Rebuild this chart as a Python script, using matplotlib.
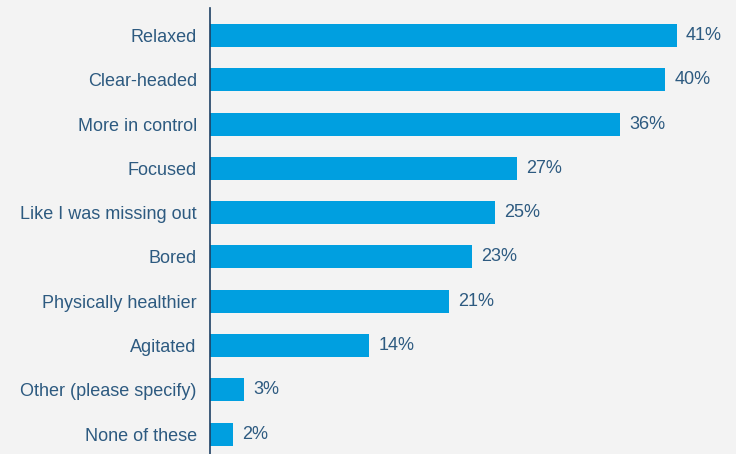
import matplotlib
matplotlib.use("Agg")
import matplotlib.pyplot as plt

categories = ["Relaxed", "Clear-headed", "More in control", "Focused",
              "Like I was missing out", "Bored", "Physically healthier",
              "Agitated", "Other (please specify)", "None of these"]
values = [41, 40, 36, 27, 25, 23, 21, 14, 3, 2]

bg = "#f3f3f3"
bar_color = "#009fe0"
text_color = "#2d5a80"

plt.rcParams["font.family"] = ["Liberation Sans", "DejaVu Sans"]

fig = plt.figure(figsize=(7.36, 4.54), dpi=100, facecolor=bg)
ax = fig.add_axes([210 / 736, 0, 526 / 736, 446 / 454], facecolor=bg)

pos = list(range(len(categories)))
ax.barh(pos, values, height=0.52, color=bar_color)
for y, v in zip(pos, values):
    ax.text(v + 0.8, y, f"{v}%", va="center", ha="left",
            fontsize=13, color=text_color)

ax.set_xlim(0, 46.2)
ax.set_ylim(9.45, -0.62)
ax.set_yticks(pos)
ax.set_yticklabels(categories, fontsize=13, color=text_color)
ax.tick_params(axis="y", length=0, pad=9.5)
ax.set_xticks([])
for side in ["top", "right", "bottom"]:
    ax.spines[side].set_visible(False)
ax.spines["left"].set_color("#1e3f63")
ax.spines["left"].set_linewidth(1.2)

fig.savefig("out.png", dpi=100, facecolor=bg)
